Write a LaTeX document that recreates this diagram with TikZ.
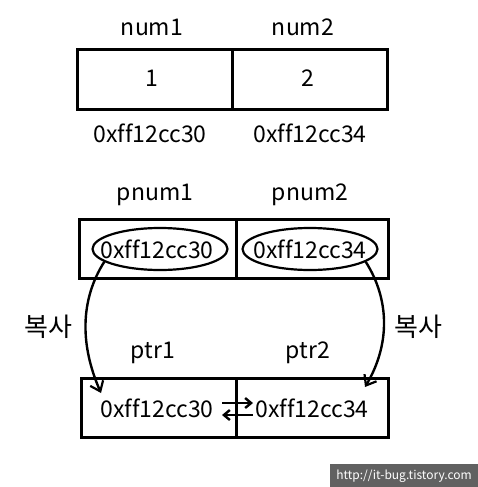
\documentclass[tikz,border=0pt]{standalone}
\usepackage{fontspec}
\setmainfont[Ligatures=NoCommon]{Noto Sans CJK KR}
\usetikzlibrary{arrows.meta,shapes.geometric}
\begin{document}
\begin{tikzpicture}[x=1pt,y=-1pt,
  cell/.style={draw,line width=2.6pt,minimum width=155pt,minimum height=60pt,inner sep=0pt,anchor=north west},
  txt/.style={font=\fontsize{23}{26}\selectfont,inner sep=0pt},
  kor/.style={font=\fontsize{26}{28}\selectfont,inner sep=0pt},
  oval/.style={draw,ellipse,line width=2.2pt,inner sep=0pt,minimum width=135pt,minimum height=42pt},
  copyarrow/.style={line width=2.4pt,-{Straight Barb[length=9pt,width=14pt,line width=2.2pt]}},
  swap/.style={line width=2.6pt,-{Straight Barb[length=6pt,width=10pt,line width=2.4pt]}}]
\useasboundingbox (0,0) rectangle (478,487);
% top boxes
\node[cell] (n1) at (76,48) {};
\node[cell] (n2) at (231,48) {};
\node[txt] (l1) at (152,27) {num1};
\node[txt] (l2) at (303,27) {num2};
\node[txt] (v1) at (152,78) {1};
\node[txt] (v2) at (308,78) {2};
\node[txt] (a1) at (150,133) {0xff12cc30};
\node[txt] (a2) at (310,133) {0xff12cc34};
% middle boxes
\node[cell,minimum width=157pt,minimum height=59pt] (p1) at (78,218) {};
\node[cell,minimum width=152pt,minimum height=59pt] (p2) at (235,218) {};
\node[txt] (pl1) at (155,195) {pnum1};
\node[txt] (pl2) at (310,195) {pnum2};
\node[oval] (o1) at (160,249) {};
\node[oval] (o2) at (310,249) {};
\node[txt] (ov1) at (157,249) {0xff12cc30};
\node[txt] (ov2) at (310,249) {0xff12cc34};
% bottom boxes
\node[cell,minimum width=155pt,minimum height=59pt] (r1) at (80,377) {};
\node[cell,minimum width=152pt,minimum height=59pt] (r2) at (235,377) {};
\node[txt] (rl1) at (153,353) {ptr1};
\node[txt] (rl2) at (308,353) {ptr2};
\node[txt] (rv1) at (157,408) {0xff12cc30};
\node[txt] (rv2) at (312,408) {0xff12cc34};
% copy arrows
\coordinate (t1) at (101,393);
\coordinate (t2) at (365,387);
\draw[copyarrow] (o1.193) .. controls (80,300) and (80,345) .. (t1);
\draw[copyarrow] (o2.-13) .. controls (390,300) and (390,345) .. (t2);
\node[kor] (c1) at (48,327) {복사};
\node[kor] (c2) at (418,327) {복사};
% swap arrows
\coordinate (s1) at (222,403);
\coordinate (s2) at (253,403);
\coordinate (s3) at (253,415);
\coordinate (s4) at (222,415);
\draw[swap] (s1) -- (s2);
\draw[swap] (s3) -- (s4);
% watermark
\fill[black!62] (330,464) rectangle (478,487);
\node[font=\fontsize{12}{14}\selectfont,text=white,inner sep=0pt] (wm) at (404,476) {http://it-bug.tistory.com};
\end{tikzpicture}
\end{document}
